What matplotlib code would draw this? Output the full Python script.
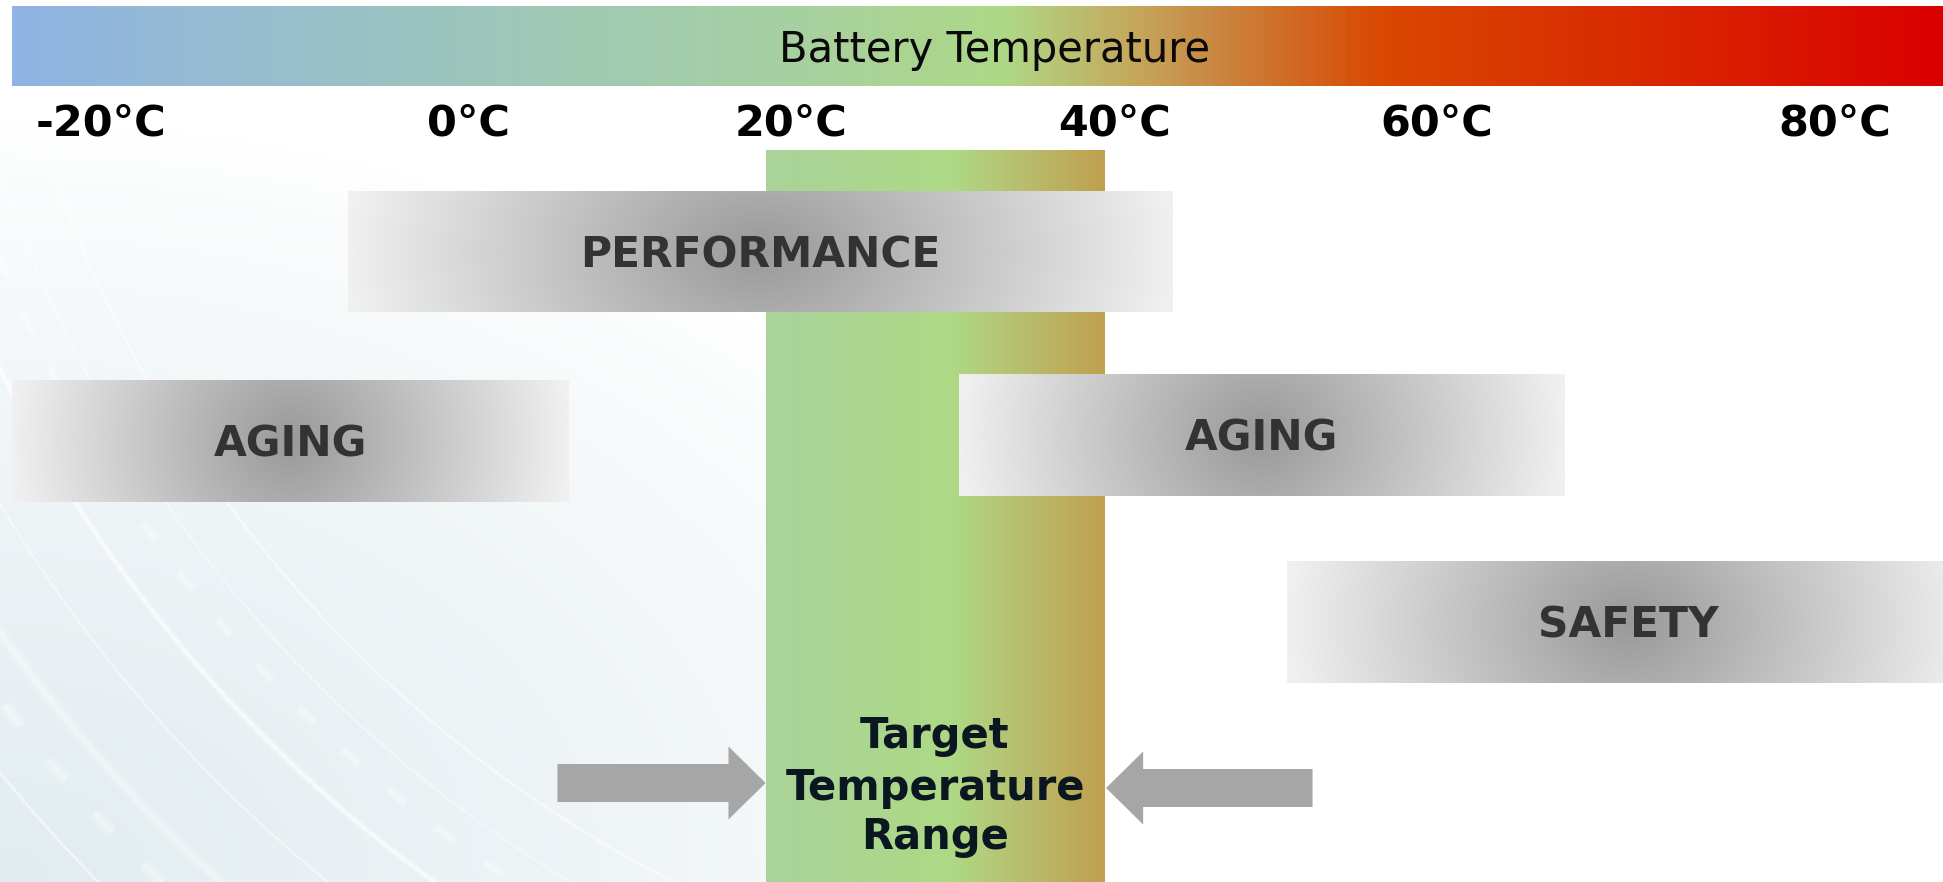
import numpy as np
import matplotlib
matplotlib.use("Agg")
import matplotlib.pyplot as plt
from matplotlib.colors import LinearSegmentedColormap
from matplotlib.patches import FancyArrow
from matplotlib.transforms import offset_copy

# ---- data -------------------------------------------------------------
tick_temps = [-20, 0, 20, 40, 60, 80]
tick_labels = ["-20°C", "0°C", "20°C", "40°C", "60°C", "80°C"]
scale_title = "Battery Temperature"

zone_names = ["PERFORMANCE", "AGING", "AGING", "SAFETY"]
zone_lo = [-7.5, -28.3, 30.4, 50.7]      # °C
zone_hi = [43.6, 6.2, 67.9, 93.1]        # °C

target_range = [18.4, 39.4]              # °C
target_label = "Target\nTemperature\nRange"
arrow_tails = [5.5, 52.3]                # °C
arrow_tips = [18.4, 39.5]                # °C

# ---- layout (vertical positions in pixels from the top) ----------------
W, H = 1943, 882
PX_PER_DEG = 16.135
ZERO_PX = 468.7
x_min = -ZERO_PX / PX_PER_DEG
x_max = (W - ZERO_PX) / PX_PER_DEG
bar_left = -28.3
bar_rows = (6.5, 86)
zone_rows = [(191, 312), (380, 502), (374, 496), (561, 683)]
target_top = 150
arrow_rows = [783, 788]
tick_baseline = 135
tick_nudge = [-45, 0, 0, 0, 0, 75]       # dots
title_baseline = 62
target_baselines = [748, 800, 849]

fig = plt.figure(figsize=(W / 100, H / 100), dpi=100)
ax = fig.add_axes([0, 0, 1, 1])
ax.axis("off")

# ---- faint technical background in the lower left ---------------------
yy, xx = np.mgrid[0:H, 0:W].astype(float)
d = np.sqrt((xx / 1100.0) ** 2 + ((H - yy) / 760.0) ** 2)
haze = np.clip(1 - d, 0, 1) ** 0.75
tint = np.array([226, 236, 240]) / 255.0
bg = np.ones((H, W, 3)) * (1 - haze[..., None]) + tint * haze[..., None]
cx, cy = 1250.0, -250.0
rr = np.hypot(xx - cx, yy - cy)
ang = np.arctan2(yy - cy, xx - cx)
for R, w, a in [(1270, 2, 0.6), (1320, 1.5, 0.5), (1395, 4, 0.75), (1460, 1.5, 0.6),
                (1530, 7, 0.45), (1615, 2, 0.7), (1700, 1.5, 0.5), (1780, 4, 0.4)]:
    m = np.clip(1 - np.abs(rr - R) / w, 0, 1) * a
    bg = bg * (1 - m[..., None]) + m[..., None]
for R, w in [(1350, 6), (1570, 9)]:
    dash = (np.sin(ang * 140) > 0.4).astype(float)
    m = np.clip(1 - np.abs(rr - R) / w, 0, 1) * dash * 0.45
    bg = bg * (1 - m[..., None]) + m[..., None]
ax.imshow(bg, extent=(x_min, x_max, H, 0), aspect="auto", zorder=0,
          interpolation="bilinear")

# ---- temperature scale bar --------------------------------------------
scale_cmap = LinearSegmentedColormap.from_list("scale", [
    (0.00, "#8fb4e3"), (0.20, "#9bc3c2"), (0.40, "#a7d0a2"),
    (0.515, "#aed886"), (0.57, "#c2b062"), (0.62, "#c98a45"),
    (0.712, "#d94800"), (0.85, "#d92800"), (1.00, "#d90000")])
grad = np.linspace(0, 1, 512)[None, :]
ax.imshow(grad, cmap=scale_cmap, extent=(bar_left, x_max, bar_rows[1], bar_rows[0]),
          aspect="auto", zorder=1, interpolation="bilinear")
title_tr = offset_copy(ax.transData, fig=fig, x=17, y=0, units="dots")
ax.text((bar_left + x_max) / 2, title_baseline, scale_title, transform=title_tr,
        ha="center", va="baseline", fontsize=30, color="#0a0a0a",
        family="DejaVu Sans", zorder=5)

for t, lab, nud in zip(tick_temps, tick_labels, tick_nudge):
    tr = offset_copy(ax.transData, fig=fig, x=nud, y=0, units="dots")
    ax.text(t, tick_baseline, lab, transform=tr, ha="center", va="baseline",
            fontsize=31, fontweight="bold", color="black",
            family="DejaVu Sans", zorder=5)

# ---- target temperature band ------------------------------------------
target_cmap = LinearSegmentedColormap.from_list("target", [
    (0.0, "#a9d39a"), (0.55, "#aed985"), (0.68, "#b5c877"), (1.0, "#bfa04f")])
ax.imshow(grad, cmap=target_cmap,
          extent=(target_range[0], target_range[1], H, target_top),
          aspect="auto", zorder=2, interpolation="bilinear")

# ---- influence zones --------------------------------------------------
nx, ny = 500, 120
U, V = np.meshgrid(np.linspace(-1, 1, nx), np.linspace(-1, 1, ny))
r = np.clip(np.sqrt(U ** 2 + (0.22 * V) ** 2), 0, 1)
shade = (153 + (240 - 153) * r) / 255.0
zone_img = np.dstack([shade, shade, shade])
for name, lo, hi, (top, bot) in zip(zone_names, zone_lo, zone_hi, zone_rows):
    ax.imshow(zone_img, extent=(lo, hi, bot, top), aspect="auto", zorder=3,
              interpolation="bilinear")
    ax.text((lo + hi) / 2, (top + bot) / 2 + 15.5, name, ha="center",
            va="baseline", fontsize=30.5, fontweight="bold", color="#333333",
            family="DejaVu Sans", zorder=5)

# ---- arrows pointing at the target band -------------------------------
for tail, tip, yc in zip(arrow_tails, arrow_tips, arrow_rows):
    ax.add_patch(FancyArrow(tail, yc, tip - tail, 0, width=38, head_width=73,
                            head_length=2.3, length_includes_head=True,
                            color="#a6a6a6", linewidth=0, zorder=4))

for line, base in zip(target_label.split("\n"), target_baselines):
    ax.text(sum(target_range) / 2, base, line, ha="center", va="baseline",
            fontsize=30, fontweight="bold", color="#0b1720",
            family="DejaVu Sans", zorder=5)

ax.set_xlim(x_min, x_max)
ax.set_ylim(H, 0)
fig.savefig("out.png", dpi=100)
